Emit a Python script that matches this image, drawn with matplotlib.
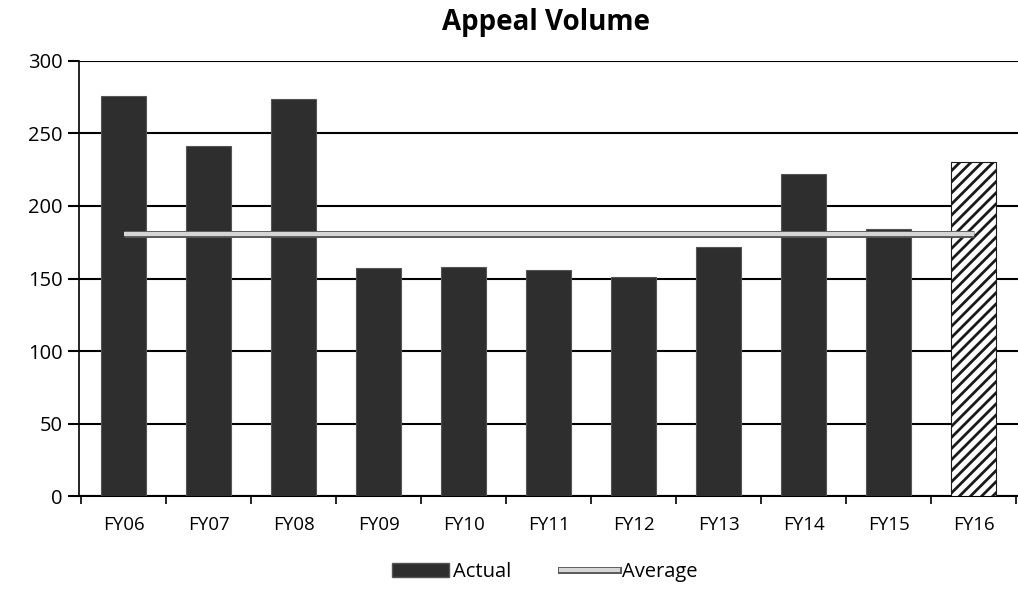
import matplotlib.pyplot as plt
import numpy as np
from matplotlib.lines import Line2D
from matplotlib.patches import Patch
import matplotlib.patheffects as pe

# Data
years = ['FY06', 'FY07', 'FY08', 'FY09', 'FY10', 'FY11', 'FY12', 'FY13',
         'FY14', 'FY15', 'FY16']
actual = [276, 241, 274, 157, 158, 156, 151, 172, 222, 184, 230]
average = 181

plt.rcParams['font.family'] = ['Open Sans', 'DejaVu Sans']
plt.rcParams['hatch.linewidth'] = 2.0

fig = plt.figure(figsize=(10.18, 5.97), dpi=100)
ax = fig.add_axes([0.078, 0.169, 0.922, 0.729])

x = np.arange(len(years))
ax.bar(x[:-1], actual[:-1], width=0.53, color='#2e2e2e',
       edgecolor='#555555', linewidth=0.8, zorder=3)
ax.bar(x[-1], actual[-1], width=0.53, color='white', edgecolor='#1a1a1a',
       hatch='///', linewidth=0.8, zorder=3)

# Average line: light fill with dark outline
ax.plot(x, [average] * len(x), color='#d5d5d5', linewidth=3,
        solid_capstyle='butt', zorder=5,
        path_effects=[pe.Stroke(linewidth=5, foreground='#555555'),
                      pe.Normal()])

ax.set_xlim(-0.52, len(years) - 0.48)
ax.set_ylim(0, 300)
ax.set_yticks(range(0, 301, 50))
ax.set_xticks(x)
ax.set_xticklabels(years)
ax.set_xticks(np.arange(-0.5, len(years), 1), minor=True)
ax.tick_params(axis='x', which='major', length=0, pad=14, labelsize=13.5)
ax.tick_params(axis='x', which='minor', length=6, width=1.2, color='black',
               direction='out')
ax.tick_params(axis='y', length=8, width=1.5, color='black', pad=4,
               labelsize=14.5)

ax.grid(axis='y', color='black', linewidth=1.5, zorder=1)
for side in ['top', 'right']:
    ax.spines[side].set_visible(False)
ax.spines['left'].set_linewidth(1.2)
ax.spines['bottom'].set_linewidth(1.5)

ax.set_title('Appeal Volume', fontsize=20, fontweight='bold', pad=22,
             x=0.497)

handles = [Patch(facecolor='#2e2e2e', edgecolor='#555555'),
           Line2D([0], [0], color='#d5d5d5', linewidth=3,
                  path_effects=[pe.Stroke(linewidth=5, foreground='#555555'),
                                pe.Normal()])]
fig.legend(handles, ['Actual', 'Average'], loc='lower center',
           bbox_to_anchor=(0.535, -0.005), ncol=2, frameon=False,
           fontsize=14.5, handlelength=2.8, columnspacing=2.5,
           handletextpad=0.2)

plt.savefig('out.png', dpi=100)
